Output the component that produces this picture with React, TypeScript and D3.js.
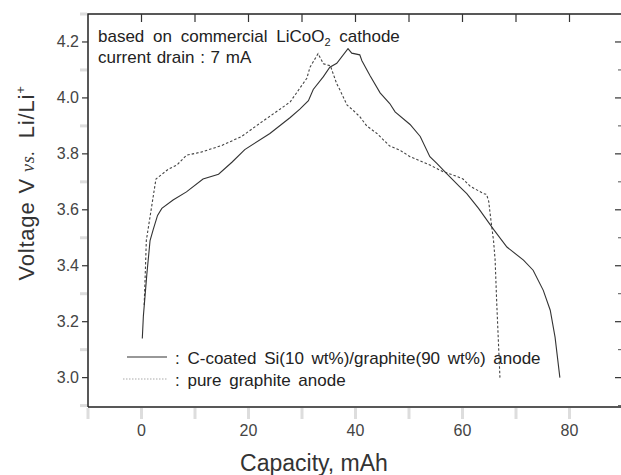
import * as d3 from "d3";

// capacity (mAh) / voltage (V)
const siCapacity = [0.15, 0.35, 1.0, 1.6, 2.2, 3.0, 3.8, 5.9, 8.4, 11.5, 14.4, 16.9, 19.3, 24.0, 27.8, 29.6, 31.2, 32.1, 34.0, 35.2, 36.5, 38.6, 39.3, 40.8, 41.2, 42.7, 44.6, 46.4, 47.4, 50.2, 52.1, 53.9, 55.2, 57.0, 59.5, 60.8, 63.0, 65.8, 68.3, 71.4, 73.2, 75.1, 76.4, 77.3, 78.2];
const siVoltage = [3.14, 3.22, 3.37, 3.49, 3.53, 3.58, 3.605, 3.635, 3.664, 3.71, 3.727, 3.77, 3.815, 3.873, 3.93, 3.96, 3.99, 4.03, 4.076, 4.11, 4.124, 4.176, 4.16, 4.154, 4.133, 4.08, 4.018, 3.98, 3.95, 3.905, 3.862, 3.79, 3.766, 3.73, 3.682, 3.658, 3.605, 3.53, 3.467, 3.42, 3.384, 3.312, 3.241, 3.145, 3.0];

const grCapacity = [0.5, 0.7, 0.9, 2.7, 5.0, 6.6, 8.4, 11.3, 13.4, 15.0, 17.2, 18.7, 22.1, 26.5, 27.8, 29.6, 30.9, 31.5, 33.0, 34.0, 35.3, 36.5, 37.1, 38.4, 39.6, 40.8, 42.1, 44.0, 46.4, 48.3, 50.2, 53.9, 56.4, 58.3, 60.1, 61.4, 63.9, 64.5, 64.9, 65.3, 65.8, 66.1, 66.4, 67.0];
const grVoltage = [3.26, 3.37, 3.49, 3.71, 3.745, 3.76, 3.795, 3.807, 3.82, 3.83, 3.849, 3.862, 3.909, 3.968, 3.986, 4.035, 4.07, 4.11, 4.158, 4.122, 4.115, 4.05, 4.028, 3.975, 3.955, 3.933, 3.9, 3.873, 3.828, 3.813, 3.79, 3.76, 3.736, 3.724, 3.71, 3.685, 3.658, 3.655, 3.63, 3.565, 3.49, 3.42, 3.266, 3.0];

const xTicks = [0, 20, 40, 60, 80];
const xMinorTicks = [-10, 0, 10, 20, 30, 40, 50, 60, 70, 80];
const yTicks = [3.0, 3.2, 3.4, 3.6, 3.8, 4.0, 4.2];
const yMinorTicks = [2.9, 3.1, 3.3, 3.5, 3.7, 3.9, 4.1, 4.3];

const W = 621;
const H = 475;
const left = 88, right = 623, top = 14, bottom = 407;
const frameRight = 628;
const font = "'Liberation Sans', Arial, sans-serif";

export default function App() {
  const x = d3.scaleLinear().domain([-10, 90]).range([left, right]);
  const y = d3.scaleLinear().domain([2.895, 4.3]).range([bottom, top]);

  const line = d3
    .line<[number, number]>()
    .x(d => x(d[0]))
    .y(d => y(d[1]));

  const si = siCapacity.map((c, i) => [c, siVoltage[i]] as [number, number]);
  const gr = grCapacity.map((c, i) => [c, grVoltage[i]] as [number, number]);

  return (
    <svg width={W} height={H} style={{ position: "absolute", left: 0, top: 0, background: "#fff" }}>
      {/* faint blurry ticks, bottom and left */}
      {xMinorTicks.map(t => (
        <line key={"bx" + t} x1={x(t)} x2={x(t)} y1={bottom + 1} y2={bottom + 12} stroke="#ddd" strokeWidth={3} />
      ))}
      {yMinorTicks.map(t => (
        <line key={"ly" + t} x1={left - 8} x2={left - 1} y1={y(t)} y2={y(t)} stroke="#ddd" strokeWidth={3} />
      ))}

      {/* frame */}
      <path
        d={`M${left},${bottom}V${top}H${frameRight}V${bottom}H${left}`}
        fill="none"
        stroke="#222"
        strokeWidth={1.5}
      />

      {/* top ticks, inward */}
      {xMinorTicks.filter(t => t > -10).map(t => (
        <line key={"tx" + t} x1={x(t)} x2={x(t)} y1={top} y2={top + 8} stroke="#333" strokeWidth={1.2} />
      ))}
      {/* left major ticks, outward */}
      {yTicks.map(t => (
        <line key={"lt" + t} x1={left - 6} x2={left} y1={y(t)} y2={y(t)} stroke="#333" strokeWidth={1.2} />
      ))}
      {/* right ticks, inward */}
      {yTicks.map(t => (
        <line key={"rt" + t} x1={615} x2={W} y1={y(t)} y2={y(t)} stroke="#333" strokeWidth={1.2} />
      ))}
      {yMinorTicks.filter(t => t < 4.3).map(t => (
        <line key={"rm" + t} x1={618} x2={W} y1={y(t)} y2={y(t)} stroke="#555" strokeWidth={1} />
      ))}

      {/* tick labels */}
      {yTicks.map(t => (
        <text key={"yl" + t} x={left - 9} y={y(t) + 5.5} textAnchor="end" fontFamily={font} fontSize={16} fill="#444">
          {d3.format(".1f")(t)}
        </text>
      ))}
      {xTicks.map(t => (
        <text key={"xl" + t} x={x(t)} y={436} textAnchor="middle" fontFamily={font} fontSize={16} fill="#444">
          {t}
        </text>
      ))}

      {/* axis titles */}
      <text x={314} y={471} textAnchor="middle" fontFamily={font} fontSize={23} fill="#333">
        Capacity, mAh
      </text>
      <text transform="translate(34,183) rotate(-90)" textAnchor="middle" fontFamily={font} fontSize={22} fill="#333" letterSpacing={0.8}>
        Voltage<tspan dx={8}>V</tspan>
        <tspan dx={6} fontFamily="'Liberation Serif', serif" fontStyle="italic" fontSize={18}>vs.</tspan>
        <tspan dx={12}>Li/Li</tspan>
        <tspan fontSize={13} dy={-9}>+</tspan>
      </text>

      {/* annotations */}
      <text x={98} y={42} fontFamily={font} fontSize={17} fill="#222" wordSpacing={4}>
        based on commercial LiCoO<tspan fontSize={11} dy={4}>2</tspan>
        <tspan dy={-4}> cathode</tspan>
      </text>
      <text x={98} y={63} fontFamily={font} fontSize={17} fill="#222" wordSpacing={1}>
        current drain : 7 mA
      </text>

      {/* curves */}
      <path d={line(gr) ?? ""} fill="none" stroke="#444" strokeWidth={1.1} strokeDasharray="2.5,2" />
      <path d={line(si) ?? ""} fill="none" stroke="#333" strokeWidth={1.1} />

      {/* legend */}
      <line x1={127} x2={167} y1={357} y2={357} stroke="#333" strokeWidth={1.1} />
      <text x={175} y={364} fontFamily={font} fontSize={17} fill="#222" wordSpacing={3}>
        : C-coated Si(10 wt%)/graphite(90 wt%) anode
      </text>
      <line x1={123} x2={167} y1={379} y2={379} stroke="#aaa" strokeWidth={1.1} strokeDasharray="1.5,1.5" />
      <text x={175} y={386} fontFamily={font} fontSize={17} fill="#222" wordSpacing={3}>
        : pure graphite anode
      </text>
    </svg>
  );
}
